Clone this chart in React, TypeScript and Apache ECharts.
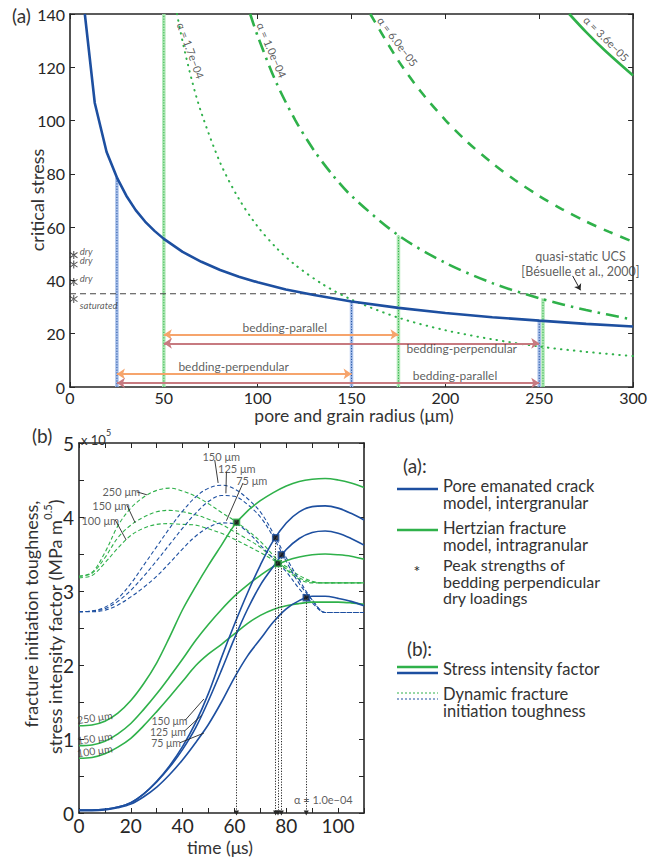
import React, { useEffect, useRef } from 'react';
import * as echarts from 'echarts';

// ---------------- Panel (a): critical stress vs pore / grain radius ----------------
const poreRadius = [7.9, 13.2, 19.5, 25, 30, 35, 40, 45, 50, 60, 70, 80, 90, 100, 115, 130, 150, 175, 200, 225, 250, 275, 300];
const poreStress = [140, 106.6, 88.2, 78.6, 71.8, 66.4, 62.1, 58.6, 55.6, 50.7, 47.0, 43.9, 41.4, 39.3, 36.6, 34.5, 32.1, 29.7, 27.8, 26.2, 24.9, 23.7, 22.7];

const hertzA17Radius = [57, 60, 65, 70, 80, 90, 100, 110, 120, 135, 150, 175, 200, 225, 250, 275, 300];
const hertzA17Stress = [140, 129.6, 114.9, 102.9, 84.2, 70.6, 60.2, 52.2, 45.8, 38.4, 32.8, 26.0, 21.3, 17.9, 15.2, 13.2, 11.6];
const hertzA10Radius = [96, 100, 110, 120, 130, 140, 150, 175, 200, 225, 250, 275, 300];
const hertzA10Stress = [140, 131.7, 114.1, 100.2, 88.8, 79.5, 71.7, 56.9, 46.6, 39.0, 33.3, 28.9, 25.3];
const hertzA06Radius = [160, 175, 187, 200, 212, 225, 237, 250, 262, 275, 287, 300];
const hertzA06Stress = [140, 122.4, 110.8, 100.2, 91.8, 84.0, 77.7, 71.7, 66.8, 62.1, 58.3, 54.5];
const hertzA036Radius = [266, 275, 285, 300];
const hertzA036Stress = [140, 133.2, 126.3, 116.9];

const alphaLabels = ['α = 1.7e−04', 'α = 1.0e−04', 'α = 6.0e−05', 'α = 3.6e−05'];
const alphaLabelRadius = [64.4, 107.5, 174.6, 285.8];
const alphaLabelStress = [126.3, 126.5, 129.7, 130.8];
const alphaLabelAngle = [-70, -67, -53, -45];

const ucsStress = 35;
const ucsText = ['quasi-static UCS', '[Bésuelle et al., 2000]'];
const ucsTextRadius = [272, 272];
const ucsTextStress = [48.8, 43.5];
const ucsArrowFrom = [267.8, 41.7];
const ucsArrowTo = [272, 36.3];

const dropRadius = [25, 50, 150, 175, 250, 252];
const dropTop = [78.6, 140, 32.1, 56.9, 24.9, 33.3];
const dropModel = ['pore', 'hertz', 'pore', 'hertz', 'pore', 'hertz'];

const arrowFrom = [50, 50, 25, 25];
const arrowTo = [175, 250, 150, 250];
const arrowLevel = [19.7, 16.4, 4.9, 1.5];
const arrowKind = ['orange', 'rose', 'orange', 'rose'];
const arrowText = ['bedding-parallel', 'bedding-perpendular', 'bedding-perpendular', 'bedding-parallel'];
const arrowTextRadius = [114.4, 208.7, 87.2, 205.1];
const arrowTextStress = [22.5, 14.5, 7.6, 4.5];

const starRadius = [2, 2, 2, 2];
const starStress = [49.5, 46, 39.4, 33];
const starText = ['dry', 'dry', 'dry', 'saturated'];

// ---------------- Panel (b): toughness / SIF vs time ----------------
const timeUs = [0, 5, 10, 15, 20, 25, 30, 35, 40, 45, 50, 55, 60, 65, 70, 75, 80, 85, 90, 95, 100, 105, 110];
const sifHertz250 = [1.18, 1.19, 1.24, 1.35, 1.52, 1.75, 2.03, 2.38, 2.75, 3.06, 3.35, 3.62, 3.89, 4.08, 4.22, 4.33, 4.42, 4.48, 4.51, 4.52, 4.50, 4.46, 4.40];
const sifHertz150 = [0.91, 0.92, 0.97, 1.07, 1.21, 1.40, 1.61, 1.84, 2.08, 2.33, 2.55, 2.75, 2.93, 3.08, 3.21, 3.33, 3.41, 3.46, 3.49, 3.50, 3.49, 3.47, 3.43];
const sifHertz100 = [0.74, 0.75, 0.80, 0.89, 1.01, 1.18, 1.37, 1.57, 1.78, 1.99, 2.15, 2.28, 2.42, 2.56, 2.67, 2.75, 2.80, 2.83, 2.85, 2.85, 2.85, 2.84, 2.82];
const sifPore150 = [0.04, 0.04, 0.05, 0.08, 0.14, 0.26, 0.43, 0.64, 0.90, 1.22, 1.62, 2.10, 2.55, 2.97, 3.35, 3.68, 3.92, 4.07, 4.14, 4.15, 4.12, 4.05, 3.96];
const sifPore125 = [0.04, 0.04, 0.05, 0.08, 0.14, 0.26, 0.42, 0.62, 0.86, 1.15, 1.52, 1.93, 2.36, 2.75, 3.08, 3.33, 3.56, 3.71, 3.79, 3.81, 3.78, 3.71, 3.62];
const sifPore75 = [0.03, 0.03, 0.04, 0.07, 0.12, 0.22, 0.35, 0.52, 0.72, 0.95, 1.20, 1.50, 1.83, 2.12, 2.35, 2.58, 2.76, 2.87, 2.93, 2.93, 2.90, 2.86, 2.80];
const tghHertz250 = [3.20, 3.25, 3.52, 3.88, 4.12, 4.27, 4.36, 4.39, 4.35, 4.28, 4.18, 4.06, 3.95, 3.82, 3.67, 3.48, 3.29, 3.16, 3.11, 3.11, 3.11, 3.11, 3.11];
const tghHertz150 = [3.20, 3.24, 3.45, 3.72, 3.89, 4.00, 4.07, 4.09, 4.07, 4.03, 3.97, 3.90, 3.80, 3.70, 3.59, 3.44, 3.30, 3.18, 3.12, 3.11, 3.11, 3.11, 3.11];
const tghHertz100 = [3.18, 3.21, 3.38, 3.58, 3.75, 3.85, 3.90, 3.91, 3.90, 3.89, 3.84, 3.78, 3.70, 3.61, 3.52, 3.42, 3.33, 3.21, 3.13, 3.11, 3.11, 3.11, 3.11];
const tghPore150 = [2.72, 2.73, 2.78, 2.90, 3.10, 3.35, 3.60, 3.85, 4.08, 4.27, 4.39, 4.43, 4.38, 4.25, 4.07, 3.78, 3.45, 3.15, 2.88, 2.71, 2.71, 2.71, 2.71];
const tghPore125 = [2.72, 2.73, 2.76, 2.86, 3.01, 3.20, 3.41, 3.63, 3.85, 4.05, 4.21, 4.29, 4.28, 4.17, 4.00, 3.73, 3.40, 3.10, 2.88, 2.71, 2.71, 2.71, 2.71];
const tghPore75 = [2.72, 2.72, 2.74, 2.81, 2.92, 3.05, 3.20, 3.38, 3.57, 3.74, 3.86, 3.92, 3.91, 3.80, 3.62, 3.44, 3.26, 3.03, 2.84, 2.71, 2.71, 2.71, 2.71];

const peakTime = [60.8, 75.9, 76.8, 78.1, 87.7];
const peakValue = [3.93, 3.72, 3.37, 3.49, 2.91];
const peakModel = ['hertz', 'pore', 'hertz', 'pore', 'pore'];

const tghHertzText = ['250 μm', '150 μm', '100 μm'];
const tghHertzTextT = [16.3, 12.4, 8.2];
const tghHertzTextV = [4.34, 4.16, 3.95];
const tghHertzLeadFrom = [[22.3, 4.34], [18.5, 4.16], [14.0, 3.96]];
const tghHertzLeadTo = [[26.2, 4.30], [21.7, 3.92], [18.2, 3.69]];

const tghPoreText = ['150 μm', '125 μm', '75 μm'];
const tghPoreTextT = [54.9, 60.9, 66.7];
const tghPoreTextV = [4.82, 4.66, 4.50];
const tghPoreLeadFrom = [[52.4, 4.77], [56.9, 4.61], [63.3, 4.46]];
const tghPoreLeadTo = [[53.7, 4.46], [56.7, 4.32], [56.9, 3.95]];

const sifHertzText = ['250 μm', '150 μm', '100 μm'];
const sifHertzTextT = [6.1, 6.1, 6.1];
const sifHertzTextV = [1.29, 1.01, 0.84];

const sifPoreText = ['150 μm', '125 μm', '75 μm'];
const sifPoreTextT = [34.9, 34.3, 33.6];
const sifPoreTextV = [1.24, 1.09, 0.95];
const sifPoreLeadFrom = [[40.9, 1.25], [40.5, 1.10], [39.0, 0.95]];
const sifPoreLeadTo = [[48.2, 1.54], [47.3, 1.32], [48.2, 1.08]];

const alphaB = 'α = 1.0e−04';
const alphaBT = 94.3;
const alphaBV = 0.18;

// ---------------- styling ----------------
const FONT = 'Lato, "Open Sans", sans-serif';
const INK = '#262626';
const TXT = '#333333';
const BLUE = '#1d4fa0';
const GREEN = '#2fb14a';
const BLUE_LIGHT = '#a9c0ea';
const GREEN_LIGHT = '#aee8b4';
const ORANGE = '#f6a46c';
const ROSE = '#c77a80';
const ASTERISK = 'path://M4.4,0H5.6V10H4.4Z M0.5,2.2L1.1,1.2L9.5,7.8L8.9,8.8Z M0.5,7.8L1.1,8.8L9.5,2.2L8.9,1.2Z';

const zip = (xs: number[], ys: number[]) => xs.map((x, i) => [x, ys[i]]);

function line(data: number[][], xi: number, yi: number, lineStyle: any, extra: any = {}) {
  return {
    type: 'line', data, xAxisIndex: xi, yAxisIndex: yi, symbol: 'none', silent: true,
    lineStyle, emphasis: { disabled: true }, ...extra,
  };
}

function texts(xi: number, yi: number, xs: number[], ys: number[], labels: string[], fontSize: number, rot?: number[], extraLabel: any = {}) {
  return {
    type: 'scatter', xAxisIndex: xi, yAxisIndex: yi, symbolSize: 1, silent: true, z: 6,
    itemStyle: { color: 'rgba(0,0,0,0)' },
    emphasis: { disabled: true },
    label: { show: true, position: 'inside', color: TXT, fontFamily: FONT, fontSize, ...extraLabel },
    data: xs.map((x, i) => ({ value: [x, ys[i]], label: { formatter: labels[i], rotate: rot ? rot[i] : 0 } })),
  };
}

function axis(gridIndex: number, min: number, max: number, interval: number, position: string, label: any) {
  return {
    type: 'value', gridIndex, min, max, interval, position,
    axisLine: { show: true, onZero: false, lineStyle: { color: INK, width: 1.6 } },
    axisTick: { show: true, inside: true, length: 5, lineStyle: { color: INK, width: 1 } },
    splitLine: { show: false },
    axisLabel: label ? { color: INK, fontFamily: FONT, ...label } : { show: false },
  };
}

function buildOption() {
  const series: any[] = [];

  // ---- panel (a) ----
  dropRadius.forEach((r, i) => {
    const pore = dropModel[i] === 'pore';
    series.push(line([[r, 0], [r, dropTop[i]]], 0, 0, { color: pore ? BLUE_LIGHT : GREEN_LIGHT, width: 3.5 }));
    series.push(line([[r, 0], [r, dropTop[i]]], 0, 0, { color: pore ? BLUE : GREEN, width: 1, type: [1.2, 1.5] }));
  });
  series.push(line([[0, ucsStress], [300, ucsStress]], 0, 0, { color: '#444', width: 1, type: [6, 4] }));
  series.push(line(zip(hertzA17Radius, hertzA17Stress), 0, 0, { color: GREEN, width: 2, type: [0.5, 6], cap: 'round' }, { smooth: 0.3 }));
  series.push(line(zip(hertzA10Radius, hertzA10Stress), 0, 0, { color: GREEN, width: 2.6, type: [13, 6, 2.5, 6] }, { smooth: 0.3 }));
  series.push(line(zip(hertzA06Radius, hertzA06Stress), 0, 0, { color: GREEN, width: 2.6, type: [10, 8] }, { smooth: 0.3 }));
  series.push(line(zip(hertzA036Radius, hertzA036Stress), 0, 0, { color: GREEN, width: 2.6 }, { smooth: 0.3 }));
  series.push(line(zip(poreRadius, poreStress), 0, 0, { color: BLUE, width: 2.6 }));

  series.push({
    type: 'line', data: [[0, 0]], xAxisIndex: 0, yAxisIndex: 0, symbol: 'none', silent: true,
    lineStyle: { opacity: 0 },
    markLine: {
      silent: true, symbol: ['arrow', 'arrow'], symbolSize: 8, label: { show: false },
      emphasis: { disabled: true },
      data: arrowFrom.map((r0, i) => {
        const c = arrowKind[i] === 'orange' ? ORANGE : ROSE;
        return [
          { coord: [r0, arrowLevel[i]], lineStyle: { color: c, width: 1.8, type: 'solid' }, itemStyle: { color: c } },
          { coord: [arrowTo[i], arrowLevel[i]] },
        ];
      }),
    },
  });
  series.push({
    type: 'line', data: [[0, 0]], xAxisIndex: 0, yAxisIndex: 0, symbol: 'none', silent: true,
    lineStyle: { opacity: 0 },
    markLine: {
      silent: true, symbol: ['none', 'arrow'], symbolSize: 6, label: { show: false },
      emphasis: { disabled: true },
      data: [[
        { coord: ucsArrowFrom, lineStyle: { color: INK, width: 1, type: 'solid' }, itemStyle: { color: INK } },
        { coord: ucsArrowTo },
      ]],
    },
  });

  series.push({
    type: 'scatter', xAxisIndex: 0, yAxisIndex: 0, symbol: ASTERISK, symbolSize: 8, silent: true, z: 6,
    itemStyle: { color: INK },
    emphasis: { disabled: true },
    data: starRadius.map((r, i) => ({
      value: [r, starStress[i]],
      label: {
        show: true, position: 'right', distance: 2, formatter: starText[i],
        offset: starText[i] === 'saturated' ? [0, 6] : [0, -4],
      },
    })),
    label: { color: TXT, fontFamily: FONT, fontSize: 9.5, fontStyle: 'italic', lineHeight: 9 },
  });

  series.push(texts(0, 0, alphaLabelRadius, alphaLabelStress, alphaLabels, 11, alphaLabelAngle));
  series.push(texts(0, 0, arrowTextRadius, arrowTextStress, arrowText, 12));
  series.push(texts(0, 0, ucsTextRadius, ucsTextStress, ucsText, 12.5));

  // ---- panel (b) ----
  const dash = { width: 1.1, type: [4, 2.5] };
  series.push(line(zip(timeUs, tghHertz250), 2, 2, { color: GREEN, ...dash }, { smooth: 0.35 }));
  series.push(line(zip(timeUs, tghHertz150), 2, 2, { color: GREEN, ...dash }, { smooth: 0.35 }));
  series.push(line(zip(timeUs, tghHertz100), 2, 2, { color: GREEN, ...dash }, { smooth: 0.35 }));
  series.push(line(zip(timeUs, tghPore150), 2, 2, { color: BLUE, ...dash }, { smooth: 0.35 }));
  series.push(line(zip(timeUs, tghPore125), 2, 2, { color: BLUE, ...dash }, { smooth: 0.35 }));
  series.push(line(zip(timeUs, tghPore75), 2, 2, { color: BLUE, ...dash }, { smooth: 0.35 }));
  const solid = { width: 1.6 };
  series.push(line(zip(timeUs, sifHertz250), 2, 2, { color: GREEN, ...solid }, { smooth: 0.35 }));
  series.push(line(zip(timeUs, sifHertz150), 2, 2, { color: GREEN, ...solid }, { smooth: 0.35 }));
  series.push(line(zip(timeUs, sifHertz100), 2, 2, { color: GREEN, ...solid }, { smooth: 0.35 }));
  series.push(line(zip(timeUs, sifPore150), 2, 2, { color: BLUE, ...solid }, { smooth: 0.35 }));
  series.push(line(zip(timeUs, sifPore125), 2, 2, { color: BLUE, ...solid }, { smooth: 0.35 }));
  series.push(line(zip(timeUs, sifPore75), 2, 2, { color: BLUE, ...solid }, { smooth: 0.35 }));

  series.push({
    type: 'line', data: [[0, 0]], xAxisIndex: 2, yAxisIndex: 2, symbol: 'none', silent: true,
    lineStyle: { opacity: 0 },
    markLine: {
      silent: true, symbol: ['none', 'triangle'], symbolSize: 5, label: { show: false },
      emphasis: { disabled: true },
      data: peakTime.map((t, i) => [
        { coord: [t, peakValue[i]], lineStyle: { color: INK, width: 1, type: [1.2, 1.5] }, itemStyle: { color: INK } },
        { coord: [t, 0] },
      ]),
    },
  });
  series.push({
    type: 'scatter', xAxisIndex: 2, yAxisIndex: 2, symbol: 'rect', symbolSize: 6, silent: true, z: 7,
    emphasis: { disabled: true },
    data: peakTime.map((t, i) => ({
      value: [t, peakValue[i]],
      itemStyle: { color: '#111', borderColor: peakModel[i] === 'pore' ? BLUE : GREEN, borderWidth: 1.5 },
    })),
  });

  const leaders = [
    ...tghHertzLeadFrom.map((p, i) => [p, tghHertzLeadTo[i]]),
    ...tghPoreLeadFrom.map((p, i) => [p, tghPoreLeadTo[i]]),
    ...sifPoreLeadFrom.map((p, i) => [p, sifPoreLeadTo[i]]),
  ];
  leaders.forEach((seg) => series.push(line(seg, 2, 2, { color: INK, width: 0.9 })));

  series.push(texts(2, 2, tghHertzTextT, tghHertzTextV, tghHertzText, 11));
  series.push(texts(2, 2, tghPoreTextT, tghPoreTextV, tghPoreText, 11));
  series.push(texts(2, 2, sifHertzTextT, sifHertzTextV, sifHertzText, 10.5, [8, 8, 8], { lineHeight: 10 }));
  series.push(texts(2, 2, sifPoreTextT, sifPoreTextV, sifPoreText, 10.5, undefined, { lineHeight: 10 }));
  series.push(texts(2, 2, [alphaBT], [alphaBV], [alphaB], 11));

  const lg = { fill: TXT, fontFamily: FONT, fontSize: 16.5 };
  const graphic: any[] = [
    { type: 'text', x: 12, y: 15, style: { text: '(a)', fill: TXT, fontFamily: FONT, fontSize: 19, verticalAlign: 'middle' } },
    { type: 'text', x: 32, y: 435, style: { text: '(b)', fill: TXT, fontFamily: FONT, fontSize: 19, verticalAlign: 'middle' } },
    {
      type: 'text', x: 81, y: 437,
      style: {
        text: '{b|x 10}{s|5}', verticalAlign: 'middle', fill: TXT,
        rich: {
          b: { fontSize: 13, fontFamily: FONT, fill: TXT, lineHeight: 18, verticalAlign: 'bottom' },
          s: { fontSize: 9, fontFamily: FONT, fill: TXT, lineHeight: 10, verticalAlign: 'top' },
        },
      },
    },
    { type: 'text', x: 37, y: 200, rotation: Math.PI / 2, style: { text: 'critical stress', fill: TXT, fontFamily: FONT, fontSize: 18, align: 'center', verticalAlign: 'middle' } },
    { type: 'text', x: 354, y: 415, style: { text: 'pore and grain radius (μm)', fill: TXT, fontFamily: FONT, fontSize: 17.5, align: 'center', verticalAlign: 'middle' } },
    { type: 'text', x: 220, y: 847, style: { text: 'time (μs)', fill: TXT, fontFamily: FONT, fontSize: 17.5, align: 'center', verticalAlign: 'middle' } },
    { type: 'text', x: 31, y: 614, rotation: Math.PI / 2, style: { text: 'fracture initiation toughness,', fill: TXT, fontFamily: FONT, fontSize: 18, align: 'center', verticalAlign: 'middle' } },
    {
      type: 'text', x: 53, y: 627, rotation: Math.PI / 2,
      style: {
        text: '{n|stress intensity factor (MPa m}{s|0.5}{n|)}', align: 'center', verticalAlign: 'middle',
        rich: {
          n: { fontSize: 18, fontFamily: FONT, fill: TXT, lineHeight: 22, verticalAlign: 'bottom' },
          s: { fontSize: 11, fontFamily: FONT, fill: TXT, lineHeight: 12, verticalAlign: 'top' },
        },
      },
    },
    // legend
    { type: 'text', x: 403, y: 465, style: { text: '(a):', ...lg, fontSize: 19, verticalAlign: 'middle' } },
    { type: 'line', shape: { x1: 397, y1: 489, x2: 438, y2: 489 }, style: { stroke: BLUE, lineWidth: 2.5 } },
    { type: 'text', x: 443, y: 494, style: { text: 'Pore emanated crack\nmodel, intergranular', ...lg, lineHeight: 17, verticalAlign: 'middle' } },
    { type: 'line', shape: { x1: 397, y1: 530, x2: 438, y2: 530 }, style: { stroke: GREEN, lineWidth: 2.5 } },
    { type: 'text', x: 443, y: 536.5, style: { text: 'Hertzian fracture\nmodel, intragranular', ...lg, lineHeight: 17, verticalAlign: 'middle' } },
    { type: 'text', x: 417, y: 570, style: { text: '*', fill: INK, fontFamily: FONT, fontSize: 16, align: 'center', verticalAlign: 'middle' } },
    { type: 'text', x: 443, y: 581, style: { text: 'Peak strengths of\nbedding perpendicular\ndry loadings', ...lg, fontSize: 16, lineHeight: 16.5, verticalAlign: 'middle' } },
    { type: 'text', x: 407, y: 648, style: { text: '(b):', ...lg, fontSize: 19, verticalAlign: 'middle' } },
    { type: 'line', shape: { x1: 397, y1: 667, x2: 438, y2: 667 }, style: { stroke: GREEN, lineWidth: 2.5 } },
    { type: 'line', shape: { x1: 397, y1: 673, x2: 438, y2: 673 }, style: { stroke: BLUE, lineWidth: 2.5 } },
    { type: 'text', x: 443, y: 669, style: { text: 'Stress intensity factor', ...lg, verticalAlign: 'middle' } },
    { type: 'line', shape: { x1: 397, y1: 693, x2: 438, y2: 693 }, style: { stroke: GREEN, lineWidth: 1, lineDash: [2, 2] } },
    { type: 'line', shape: { x1: 397, y1: 699, x2: 438, y2: 699 }, style: { stroke: BLUE, lineWidth: 1, lineDash: [2, 2] } },
    { type: 'text', x: 443, y: 702.5, style: { text: 'Dynamic fracture\ninitiation toughness', ...lg, lineHeight: 17, verticalAlign: 'middle' } },
  ];

  return {
    animation: false,
    backgroundColor: '#ffffff',
    textStyle: { fontFamily: FONT },
    grid: [
      { left: 70, top: 14, width: 568, height: 373 },
      { left: 79, top: 443, width: 285, height: 370 },
    ],
    xAxis: [
      axis(0, 0, 300, 50, 'bottom', { fontSize: 16, margin: 2 }),
      axis(0, 0, 300, 50, 'top', null),
      axis(1, 0, 110, 10, 'bottom', { fontSize: 19, margin: 3, formatter: (v: number) => (v % 20 === 0 ? String(v) : '') }),
      axis(1, 0, 110, 10, 'top', null),
    ],
    yAxis: [
      axis(0, 0, 140, 20, 'left', { fontSize: 16, margin: 5 }),
      axis(0, 0, 140, 20, 'right', null),
      axis(1, 0, 5, 0.5, 'left', { fontSize: 19, margin: 5, formatter: (v: number) => (Math.abs(v - Math.round(v)) < 1e-6 ? String(Math.round(v)) : '') }),
      axis(1, 0, 5, 0.5, 'right', null),
    ],
    series,
    graphic,
  };
}

export default function App() {
  const ref = useRef<HTMLDivElement>(null);
  useEffect(() => {
    if (!ref.current) return;
    const chart = echarts.init(ref.current, null, { renderer: 'svg' });
    chart.setOption(buildOption() as any);
    return () => chart.dispose();
  }, []);
  return <div ref={ref} style={{ position: 'absolute', left: 0, top: 0, width: 650, height: 858, background: '#fff' }} />;
}
